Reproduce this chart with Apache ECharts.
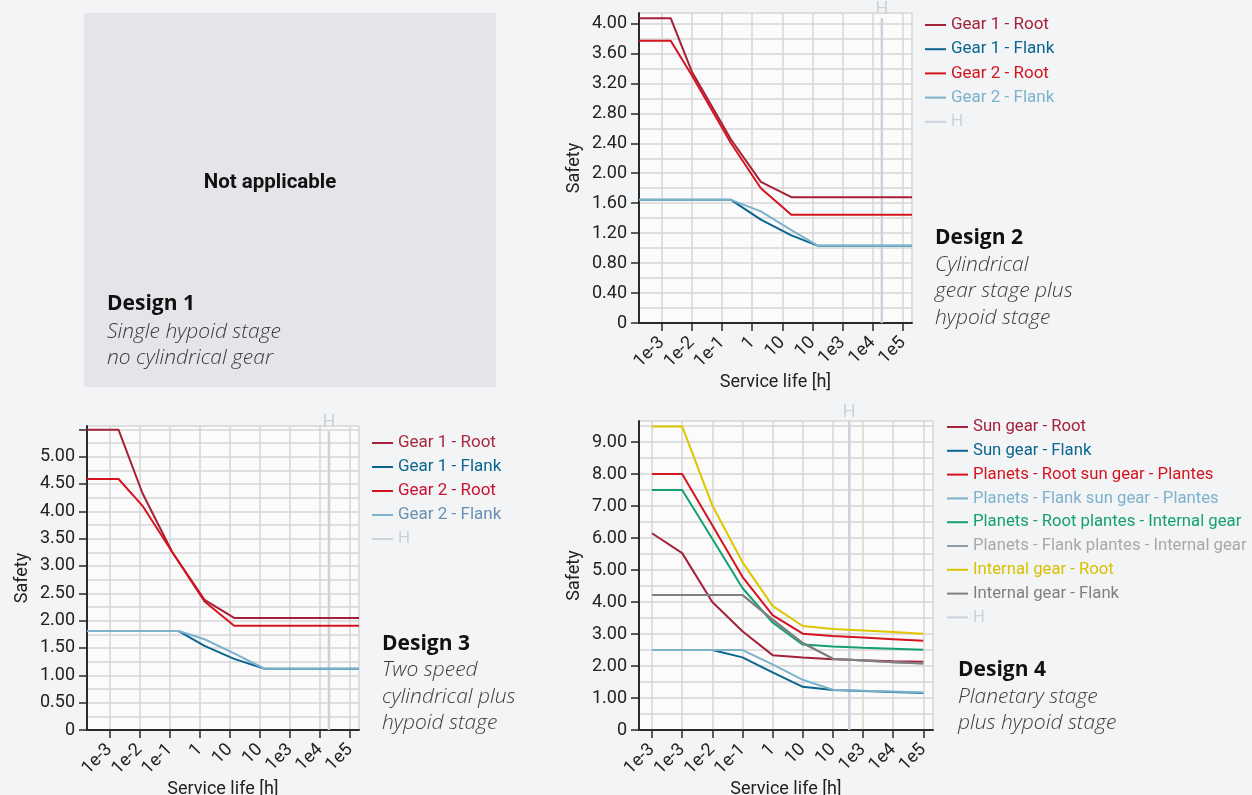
<!DOCTYPE html>
<html>
<head>
<meta charset="utf-8">
<title>Safety over service life</title>
<script src="https://cdn.jsdelivr.net/npm/echarts@6/dist/echarts.min.js"></script>
<style>
  html, body { margin: 0; padding: 0; background: #f3f4f6; }
  #page { position: relative; width: 1252px; height: 795px; overflow: hidden; }
  .layer { position: absolute; left: 0; top: 0; width: 1252px; height: 795px; }
</style>
</head>
<body>
<div id="page">
  <div id="bg" class="layer"></div>
  <div id="d2" class="layer"></div>
  <div id="d3" class="layer"></div>
  <div id="d4" class="layer"></div>
</div>
<script>
// ---------- Design 2: cylindrical gear stage plus hypoid stage ----------
const d2Names = ['Gear 1 - Root', 'Gear 1 - Flank', 'Gear 2 - Root', 'Gear 2 - Flank'];
const d2RootHours = [0.000178, 0.002, 0.01, 0.2, 1.95, 20, 200000];
const d2Gear1Root = [4.07, 4.07, 3.36, 2.45, 1.885, 1.68, 1.68];
const d2Gear2Root = [3.77, 3.77, 3.31, 2.40, 1.80, 1.445, 1.445];
const d2FlankHours = [0.000178, 0.2, 1.95, 20, 155, 200000];
const d2Gear1Flank = [1.645, 1.645, 1.38, 1.17, 1.03, 1.03];
const d2Gear2Flank = [1.645, 1.645, 1.49, 1.24, 1.03, 1.03];
const d2HLife = 20000;
const d2HTop = 4.07;
const d2LifeRange = [0.000178, 200000];
const d2SafetyMax = 4.14;
const d2SafetyStep = 0.4;
const d2SafetyLabelTop = 4.0;
const d2XLabels = ['1e-3', '1e-2', '1e-1', '1', '10', '10', '1e3', '1e4', '1e5']; // decades 1e-3 .. 1e5

// ---------- Design 3: two speed cylindrical plus hypoid stage ----------
const d3Names = ['Gear 1 - Root', 'Gear 1 - Flank', 'Gear 2 - Root', 'Gear 2 - Flank'];
const d3RootHours = [0.000178, 0.002, 0.0125, 0.12, 1.45, 14, 200000];
const d3Gear1Root = [5.49, 5.49, 4.33, 3.26, 2.38, 2.05, 2.05];
const d3Gear2Root = [4.59, 4.59, 4.10, 3.26, 2.35, 1.905, 1.905];
const d3FlankHours = [0.000178, 0.2, 1.45, 14, 145, 200000];
const d3Gear1Flank = [1.81, 1.81, 1.54, 1.30, 1.12, 1.12];
const d3Gear2Flank = [1.81, 1.81, 1.66, 1.40, 1.12, 1.12];
const d3HLife = 20000;
const d3HTop = 5.46;
const d3LifeRange = [0.000178, 200000];
const d3SafetyMax = 5.56;
const d3SafetyStep = 0.5;
const d3SafetyLabelTop = 5.0;
const d3XLabels = ['1e-3', '1e-2', '1e-1', '1', '10', '10', '1e3', '1e4', '1e5']; // decades 1e-3 .. 1e5

// ---------- Design 4: planetary stage plus hypoid stage ----------
const d4Names = [
  'Sun gear - Root', 'Sun gear - Flank',
  'Planets - Root sun gear - Plantes', 'Planets - Flank sun gear - Plantes',
  'Planets - Root plantes - Internal gear', 'Planets - Flank plantes - Internal gear',
  'Internal gear - Root', 'Internal gear - Flank'
];
const d4Hours = [0.0001, 0.001, 0.01, 0.1, 1, 10, 100, 1000, 10000, 100000];
const d4SunRoot = [6.15, 5.53, 4.00, 3.09, 2.34, 2.27, 2.21, 2.18, 2.15, 2.13];
const d4SunFlank = [2.50, 2.50, 2.50, 2.27, 1.80, 1.35, 1.25, 1.22, 1.19, 1.16];
const d4PlanetRootSun = [8.00, 8.00, 6.40, 4.79, 3.59, 3.01, 2.94, 2.89, 2.84, 2.79];
const d4PlanetFlankSun = [2.50, 2.50, 2.50, 2.50, 2.05, 1.57, 1.26, 1.23, 1.20, 1.17];
const d4PlanetRootRing = [7.50, 7.50, 5.98, 4.44, 3.36, 2.67, 2.61, 2.57, 2.54, 2.51];
const d4PlanetFlankRing = [4.22, 4.22, 4.22, 4.22, 3.45, 2.72, 2.23, 2.17, 2.12, 2.08];
const d4RingRoot = [9.49, 9.49, 7.02, 5.25, 3.88, 3.25, 3.16, 3.11, 3.06, 3.01];
const d4RingFlank = [4.22, 4.22, 4.22, 4.22, 3.45, 2.72, 2.23, 2.17, 2.12, 2.08];
const d4HLife = 350;
const d4HTop = 9.66;
const d4LifeRange = [0.000037, 210000];
const d4SafetyMax = 9.66;
const d4SafetyStep = 1;
const d4SafetyLabelTop = 9.0;
const d4XLabels = ['1e-3', '1e-3', '1e-2', '1e-1', '1', '10', '10', '1e3', '1e4', '1e5']; // decades 1e-4 .. 1e5

// ---------- captions ----------
const captions = [
  { title: 'Design 1', lines: ['Single hypoid stage', 'no cylindrical gear'] },
  { title: 'Design 2', lines: ['Cylindrical', 'gear stage plus', 'hypoid stage'] },
  { title: 'Design 3', lines: ['Two speed', 'cylindrical plus', 'hypoid stage'] },
  { title: 'Design 4', lines: ['Planetary stage', 'plus hypoid stage'] }
];
const notApplicable = 'Not applicable';

// ---------- styling ----------
const FONT = 'Roboto, "Liberation Sans", sans-serif';
const CAPTION_FONT = '"Open Sans", "Noto Sans", sans-serif';
const AXIS_COLOR = '#2a2a2a';
const GRID_COLOR = '#d6d6d6';
const H_COLOR = '#cdd1dc';

const C = {
  darkRed: '#a5213a',
  teal: '#0b668f',
  red: '#d4141f',
  lightBlue: '#7db2cb',
  green: '#15a070',
  greyBlue: '#8e9aa6',
  yellow: '#dfc500',
  grey: '#7f7f7f'
};

function pairs(xs, ys) {
  return xs.map((x, i) => [x, ys[i]]);
}

function lineSeries(name, data, color, z) {
  return {
    name: name,
    type: 'line',
    data: data,
    symbol: 'none',
    lineStyle: { width: 2, color: color },
    itemStyle: { color: color },
    z: z || 3,
    animation: false
  };
}

function hSeries(life, top) {
  return {
    name: 'H',
    type: 'line',
    symbol: 'none',
    data: [
      [life, 0],
      {
        value: [life, top],
        symbol: 'circle',
        symbolSize: 1,
        label: {
          show: true, position: 'top', distance: -1, formatter: 'H',
          color: H_COLOR, fontSize: 18, fontFamily: FONT
        }
      }
    ],
    lineStyle: { width: 2.5, color: H_COLOR },
    itemStyle: { color: H_COLOR },
    z: 2,
    animation: false
  };
}

function buildOption(cfg) {
  const firstExp = cfg.firstExp;
  return {
    backgroundColor: 'transparent',
    animation: false,
    textStyle: { fontFamily: FONT },
    grid: {
      left: cfg.grid[0], top: cfg.grid[1], width: cfg.grid[2], height: cfg.grid[3],
      containLabel: false,
      outerBoundsMode: 'none',
      show: true, backgroundColor: '#fbfbfb', borderWidth: 0
    },
    legend: {
      orient: 'vertical',
      left: cfg.legend[0], top: cfg.legend[1],
      padding: 0,
      icon: 'rect',
      itemWidth: 21, itemHeight: 2, itemGap: cfg.legend[2],
      textStyle: { fontSize: cfg.legendFont, fontFamily: FONT, lineHeight: 18 },
      data: cfg.legendItems
    },
    xAxis: {
      type: 'log',
      logBase: 10,
      min: cfg.xRange[0],
      max: cfg.xRange[1],
      name: 'Service life [h]',
      nameLocation: 'middle',
      nameGap: 50,
      nameTextStyle: { fontSize: 18, color: '#222', fontFamily: FONT },
      axisLine: { show: true, onZero: false, lineStyle: { color: AXIS_COLOR, width: 2 } },
      axisTick: { show: true, length: 8, lineStyle: { color: AXIS_COLOR, width: 1.5 } },
      axisLabel: {
        rotate: 45, margin: 17, fontSize: 18, color: '#222', fontFamily: FONT,
        showMinLabel: false, showMaxLabel: false,
        formatter: function (v) {
          const lg = Math.log10(v);
          const e = Math.round(lg);
          if (Math.abs(lg - e) > 1e-6) return '';
          const t = cfg.xLabels[e - firstExp];
          return t === undefined ? '' : t;
        }
      },
      splitLine: { show: true, lineStyle: { color: GRID_COLOR, width: 1.5 } }
    },
    yAxis: {
      type: 'value',
      min: 0,
      max: cfg.yMax,
      interval: cfg.yStep,
      name: 'Safety',
      nameLocation: 'middle',
      nameGap: 56,
      nameTextStyle: { fontSize: 18, color: '#222', fontFamily: FONT },
      axisLine: { show: true, lineStyle: { color: AXIS_COLOR, width: 2 } },
      axisTick: { show: true, length: 8, lineStyle: { color: AXIS_COLOR, width: 1.5 } },
      axisLabel: {
        fontSize: 18, color: '#222', margin: 12, fontFamily: FONT, showMaxLabel: false,
        formatter: function (v) {
          if (v > cfg.yLabelTop + 1e-9) return '';
          return v === 0 ? '0' : v.toFixed(2);
        }
      },
      splitLine: { show: true, lineStyle: { color: GRID_COLOR, width: 1.5 } },
      minorTick: { show: false, splitNumber: 2 },
      minorSplitLine: { show: true, lineStyle: { color: GRID_COLOR, width: 1.5 } }
    },
    series: cfg.series
  };
}

function legendItems(names, textColors) {
  return names.map((n, i) => ({ name: n, textStyle: { color: textColors[i] } }));
}

// ---------- page layer: panel for design 1 and captions ----------
function captionGraphics(cap, x, titleY, lineYs) {
  const out = [{
    type: 'text', x: x, y: titleY,
    style: {
      text: cap.title, fill: '#111', align: 'left', verticalAlign: 'middle',
      font: 'bold 21px ' + CAPTION_FONT
    }
  }];
  cap.lines.forEach((t, i) => {
    out.push({
      type: 'text', x: x, y: lineYs[i],
      style: {
        text: t, fill: '#3a3a3a', align: 'left', verticalAlign: 'middle',
        font: 'italic 300 21px ' + CAPTION_FONT
      }
    });
  });
  return out;
}

const bg = echarts.init(document.getElementById('bg'), null, { renderer: 'canvas' });
bg.setOption({
  backgroundColor: '#f3f4f6',
  animation: false,
  graphic: [
    { type: 'rect', shape: { x: 84, y: 13, width: 412, height: 374 }, style: { fill: '#e4e5e9' } },
    {
      type: 'text', x: 270, y: 183,
      style: {
        text: notApplicable, fill: '#111', align: 'center', verticalAlign: 'middle',
        font: 'bold 20.5px ' + FONT
      }
    }
  ].concat(
    captionGraphics(captions[0], 107, 304, [332, 358]),
    captionGraphics(captions[1], 935, 238, [265, 291, 318]),
    captionGraphics(captions[2], 382, 644, [670, 697, 723]),
    captionGraphics(captions[3], 958, 670, [697, 723])
  )
});

// ---------- design 2 ----------
const c2 = echarts.init(document.getElementById('d2'), null, { renderer: 'canvas' });
c2.setOption(buildOption({
  grid: [639, 13, 273, 310],
  legend: [925, 16, 6.2],
  legendFont: 17,
  xRange: d2LifeRange,
  yMax: d2SafetyMax,
  yStep: d2SafetyStep,
  yLabelTop: d2SafetyLabelTop,
  firstExp: -3,
  xLabels: d2XLabels,
  legendItems: legendItems(d2Names.concat(['H']), [C.darkRed, C.teal, C.red, C.lightBlue, H_COLOR]),
  series: [
    lineSeries(d2Names[0], pairs(d2RootHours, d2Gear1Root), C.darkRed, 4),
    lineSeries(d2Names[1], pairs(d2FlankHours, d2Gear1Flank), C.teal, 3),
    lineSeries(d2Names[2], pairs(d2RootHours, d2Gear2Root), C.red, 4),
    lineSeries(d2Names[3], pairs(d2FlankHours, d2Gear2Flank), C.lightBlue, 3),
    hSeries(d2HLife, d2HTop)
  ]
}));

// ---------- design 3 ----------
const c3 = echarts.init(document.getElementById('d3'), null, { renderer: 'canvas' });
c3.setOption(buildOption({
  grid: [87, 426, 272, 304],
  legend: [372, 434, 6],
  legendFont: 17,
  xRange: d3LifeRange,
  yMax: d3SafetyMax,
  yStep: d3SafetyStep,
  yLabelTop: d3SafetyLabelTop,
  firstExp: -3,
  xLabels: d3XLabels,
  legendItems: legendItems(d3Names.concat(['H']), ['#a8293d', C.teal, '#c9102f', '#6b8fb0', H_COLOR]),
  series: [
    lineSeries(d3Names[0], pairs(d3RootHours, d3Gear1Root), C.darkRed, 4),
    lineSeries(d3Names[1], pairs(d3FlankHours, d3Gear1Flank), C.teal, 3),
    lineSeries(d3Names[2], pairs(d3RootHours, d3Gear2Root), C.red, 4),
    lineSeries(d3Names[3], pairs(d3FlankHours, d3Gear2Flank), C.lightBlue, 3),
    hSeries(d3HLife, d3HTop)
  ]
}));

// ---------- design 4 ----------
const c4 = echarts.init(document.getElementById('d4'), null, { renderer: 'canvas' });
const d4Colors = [C.darkRed, C.teal, C.red, C.lightBlue, C.green, C.greyBlue, C.yellow, C.grey];
const d4TextColors = [C.darkRed, C.teal, C.red, C.lightBlue, C.green, '#a8a8a8', '#d9c000', C.grey, H_COLOR];
const d4Values = [d4SunRoot, d4SunFlank, d4PlanetRootSun, d4PlanetFlankSun,
  d4PlanetRootRing, d4PlanetFlankRing, d4RingRoot, d4RingFlank];
c4.setOption(buildOption({
  grid: [639, 421, 294, 309],
  legend: [947, 418, 5.8],
  legendFont: 16.7,
  xRange: d4LifeRange,
  yMax: d4SafetyMax,
  yStep: d4SafetyStep,
  yLabelTop: d4SafetyLabelTop,
  firstExp: -4,
  xLabels: d4XLabels,
  legendItems: legendItems(d4Names.concat(['H']), d4TextColors),
  series: d4Names.map((n, i) => lineSeries(n, pairs(d4Hours, d4Values[i]), d4Colors[i], 3))
    .concat([hSeries(d4HLife, d4HTop)])
}));
</script>
</body>
</html>
